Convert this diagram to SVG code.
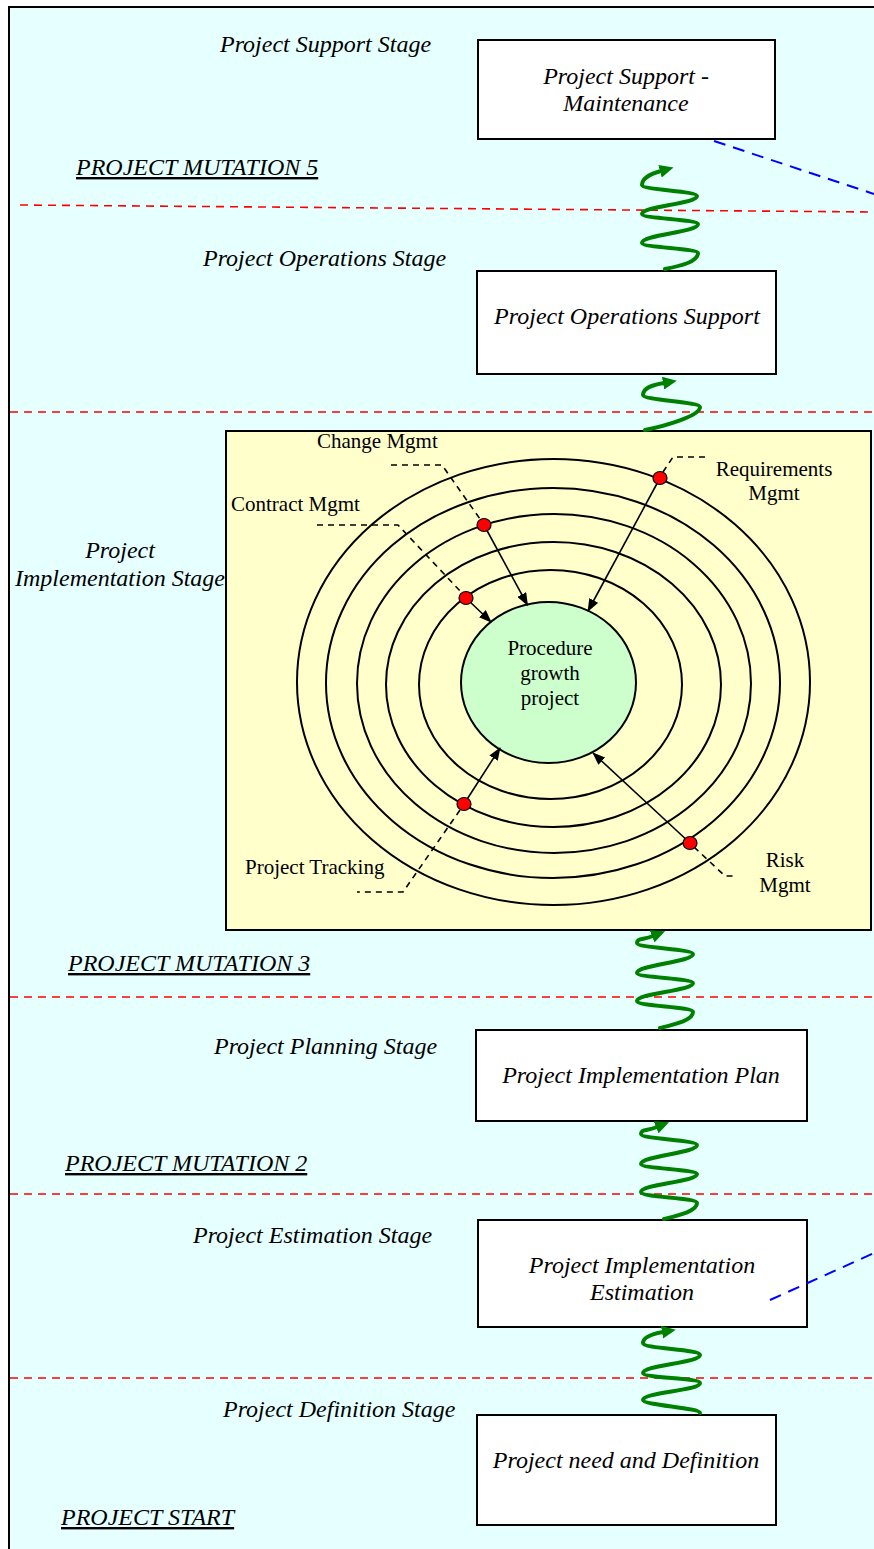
<svg xmlns="http://www.w3.org/2000/svg" width="874" height="1549" viewBox="0 0 874 1549">
  <defs>
    <style>
      .it { font-family: "Liberation Serif", "Times New Roman", serif; font-style: italic; font-size: 24px; fill: #000; }
      .ul { text-decoration: underline; }
      .rg { font-family: "Liberation Serif", "Times New Roman", serif; font-size: 21px; fill: #000; }
      .box { fill: #fff; stroke: #000; stroke-width: 2; }
      .sep { fill: none; stroke: #f00; stroke-width: 1.6; stroke-dasharray: 8 6; }
      .link { fill: none; stroke: #00f; stroke-width: 2; stroke-dasharray: 12 8; }
      .wave { fill: none; stroke: #008000; stroke-width: 4; stroke-linecap: round; marker-end: url(#greenHead); }
      .ring { fill: none; stroke: #000; stroke-width: 2; }
      .lead { fill: none; stroke: #000; stroke-width: 1.6; stroke-dasharray: 6 5; }
      .ptr { fill: none; stroke: #000; stroke-width: 1.6; marker-end: url(#blackHead); }
      .dot { fill: #f00; stroke: #000; stroke-width: 1.2; }
    </style>
    <marker id="greenHead" markerUnits="userSpaceOnUse" viewBox="0 0 14 13" markerWidth="14" markerHeight="13" refX="1" refY="6.5" orient="auto">
      <path d="M0,0 L14,6.5 L0,13 z" fill="#008000"/>
    </marker>
    <marker id="blackHead" markerUnits="userSpaceOnUse" viewBox="0 0 13 10" markerWidth="13" markerHeight="10" refX="12" refY="5" orient="auto">
      <path d="M0,0 L13,5 L0,10 z" fill="#000"/>
    </marker>
  </defs>

  <!-- page frame -->
  <rect x="9" y="7" width="900" height="1600" fill="#E6FFFF" stroke="#000" stroke-width="2"/>

  <!-- stage boundaries -->
  <g id="boundaries">
    <line class="sep" x1="20" y1="205" x2="874" y2="212"/>
    <line class="sep" x1="10" y1="412" x2="874" y2="412"/>
    <line class="sep" x1="10" y1="997" x2="874" y2="997"/>
    <line class="sep" x1="10" y1="1194" x2="874" y2="1194"/>
    <line class="sep" x1="10" y1="1378" x2="874" y2="1378"/>
  </g>

  <!-- stage captions -->
  <g id="stage-labels">
    <text class="it" x="220" y="52">Project Support Stage</text>
    <text class="it ul" x="76" y="175">PROJECT MUTATION 5</text>
    <text class="it" x="203" y="266">Project Operations Stage</text>
    <text class="it" x="120" y="558" text-anchor="middle">Project</text>
    <text class="it" x="120" y="586" text-anchor="middle">Implementation Stage</text>
    <text class="it ul" x="68" y="971">PROJECT MUTATION 3</text>
    <text class="it" x="214" y="1054">Project Planning Stage</text>
    <text class="it ul" x="65" y="1171">PROJECT MUTATION 2</text>
    <text class="it" x="193" y="1243">Project Estimation Stage</text>
    <text class="it" x="223" y="1417">Project Definition Stage</text>
    <text class="it ul" x="61" y="1525">PROJECT START</text>
  </g>

  <g id="support-maintenance">
    <rect class="box" x="478" y="40" width="297" height="99"/>
    <text class="it" x="626" y="84" text-anchor="middle">Project Support -</text>
    <text class="it" x="626" y="111" text-anchor="middle">Maintenance</text>
  </g>

  <g id="operations-support">
    <rect class="box" x="477" y="271" width="299" height="103"/>
    <text class="it" x="627" y="324" text-anchor="middle">Project Operations Support</text>
  </g>

  <g id="implementation">
    <rect x="226" y="431" width="645" height="499" fill="#FFFFCC" stroke="#000" stroke-width="2"/>
    <ellipse class="ring" cx="553.5" cy="682" rx="256.5" ry="223"/>
    <ellipse class="ring" cx="553" cy="683" rx="227" ry="195"/>
    <ellipse class="ring" cx="554" cy="683.5" rx="197" ry="169.5"/>
    <ellipse class="ring" cx="553.5" cy="684.5" rx="167.5" ry="142.5"/>
    <ellipse class="ring" cx="550.5" cy="684.5" rx="131.5" ry="114.5"/>
    <g id="growth-core">
      <ellipse cx="548.5" cy="682.5" rx="87.5" ry="80.5" fill="#CCFFCC" stroke="#000" stroke-width="2"/>
      <text class="rg" x="550" y="655" text-anchor="middle">Procedure</text>
      <text class="rg" x="550" y="680" text-anchor="middle">growth</text>
      <text class="rg" x="550" y="705" text-anchor="middle">project</text>
    </g>
    <g id="leaders">
      <path class="lead" d="M391,465 H442 L480,519"/>
      <path class="lead" d="M317,525 H398 L461,592"/>
      <path class="lead" d="M663,472 L673,457 H706"/>
      <path class="lead" d="M460,810 L403,892 H357"/>
      <path class="lead" d="M694,847 L725,876 H735"/>
    </g>
    <g id="pointers">
      <path class="ptr" d="M484,525 L527.5,605"/>
      <path class="ptr" d="M660,478 L588,611"/>
      <path class="ptr" d="M466,598 L491,622"/>
      <path class="ptr" d="M464,804 L500,748"/>
      <path class="ptr" d="M690,843 L593,753"/>
    </g>
    <g id="markers">
      <ellipse class="dot" cx="660" cy="478" rx="7" ry="6.5"/>
      <ellipse class="dot" cx="484" cy="525" rx="7" ry="6.5"/>
      <ellipse class="dot" cx="466" cy="598" rx="7" ry="6.5"/>
      <ellipse class="dot" cx="464" cy="804" rx="7" ry="6.5"/>
      <ellipse class="dot" cx="690" cy="843" rx="7" ry="6.5"/>
    </g>
    <text class="rg" x="317" y="448">Change Mgmt</text>
    <text class="rg" x="231" y="511">Contract Mgmt</text>
    <text class="rg" x="774" y="476" text-anchor="middle">Requirements</text>
    <text class="rg" x="774" y="500" text-anchor="middle">Mgmt</text>
    <text class="rg" x="245" y="874">Project Tracking</text>
    <text class="rg" x="785" y="867" text-anchor="middle">Risk</text>
    <text class="rg" x="785" y="892" text-anchor="middle">Mgmt</text>
  </g>

  <g id="implementation-plan">
    <rect class="box" x="476" y="1030" width="331" height="91"/>
    <text class="it" x="641" y="1083" text-anchor="middle">Project Implementation Plan</text>
  </g>

  <g id="implementation-estimation">
    <rect class="box" x="478" y="1220" width="329" height="107"/>
    <text class="it" x="642" y="1273" text-anchor="middle">Project Implementation</text>
    <text class="it" x="642" y="1300" text-anchor="middle">Estimation</text>
  </g>

  <g id="need-definition">
    <rect class="box" x="477" y="1415" width="299" height="110"/>
    <text class="it" x="626" y="1468" text-anchor="middle">Project need and Definition</text>
  </g>

  <!-- transitions between stages -->
  <g id="connectors">
    <path class="wave" d="M665,269 C680,266 698,262 698,253 C698,248.5 642,247.5 642,243 C642,234.5 698,232.5 698,224 C698,219.5 642,218.5 642,214 C642,206 697,204 697,196 C697,191 642,190 642,185 C642,178 650,174 661,171"/>
    <path class="wave" d="M645,430 C665,426 700,416 700,407 C700,402 643,400 643,395 C643,388 652,385 664,383"/>
    <path class="wave" d="M660,1028 C676,1024 693,1020 693,1012 C693,1006.5 637,1006.5 637,1001 C637,993 693,991 693,983 C693,978.5 637,977.5 637,973 C637,965 693,962 693,954 C693,949 637,948 637,943 C637,938 643,940 653,936"/>
    <path class="wave" d="M664,1219 C680,1215 697,1211 697,1203 C697,1197.5 641,1197.5 641,1192 C641,1184 697,1182 697,1174 C697,1169.5 641,1168.5 641,1164 C641,1156 697,1153 697,1145 C697,1140 641,1139 641,1134 C641,1129 647,1131 657,1127"/>
    <path class="wave" d="M700,1413 C700,1408 643,1405 643,1400 C643,1392 700,1391 700,1383 C700,1378 643,1378 643,1373 C643,1365 700,1363 700,1355 C700,1349 643,1349 643,1343 C643,1337 652,1334 663,1332"/>
    <line class="link" x1="714" y1="141" x2="874" y2="194"/>
    <line class="link" x1="770" y1="1300" x2="874" y2="1253"/>
  </g>
</svg>
